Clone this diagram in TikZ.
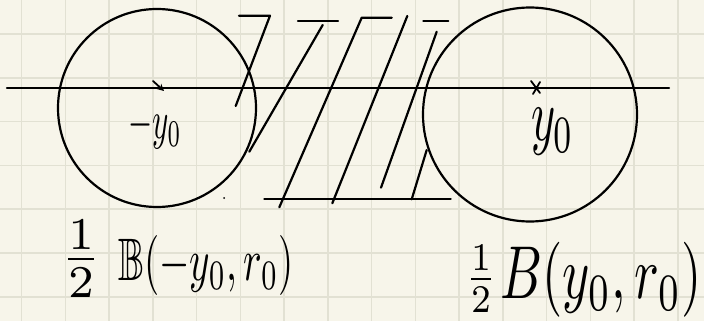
\documentclass[tikz,border=0pt]{standalone}
\usepackage{amssymb}
\usepackage{graphicx}
\usetikzlibrary{arrows.meta}
\definecolor{paper}{HTML}{F7F5EA}
\definecolor{gridc}{HTML}{E2E1D3}
\begin{document}
\begin{tikzpicture}[x=1pt,y=-1pt,
  ink/.style={line width=2.2pt,line cap=round,line join=round,black},
  gridline/.style={line width=1.6pt,gridc},
  tick/.style={line width=1.8pt,line cap=round,black},
  lbl/.style={inner sep=0pt}]
\useasboundingbox (0,0) rectangle (704,321);
\fill[paper] (0,0) rectangle (704,321);
\begin{scope}
\clip (0,0) rectangle (704,321);
\foreach \i in {0,...,15} \draw[gridline] ({21.6+43.75*\i},0) -- ({21.6+43.75*\i},321);
\foreach \j in {0,...,6} \draw[gridline] (0,{34+43.8*\j}) -- (704,{34+43.8*\j});
\end{scope}
% balls
\node[ink,draw,circle,minimum size=198pt,inner sep=0pt] (L) at (157,108) {};
\node[ink,draw,circle,minimum size=214pt,inner sep=0pt] (R) at (530,114.5) {};
% axis
\coordinate (a1) at (7,88);
\coordinate (a2) at (669,88);
\draw[ink] (a1) -- (a2);
% centre marks
\coordinate (m1) at (153,81);
\coordinate (m2) at (164,91);
\draw[tick,-{Stealth[length=7pt,width=7pt]}] (m1) -- (m2);
\coordinate (x1) at (531,81); \coordinate (x2) at (540,93);
\coordinate (x3) at (540,82); \coordinate (x4) at (533,94);
\draw[tick] (x1) -- (x2) (x3) -- (x4);
% hatching
\draw[ink] (239,15.7) -- (270,15.7) -- (235.7,106);
\draw[ink] (298,21) -- (338,21);
\draw[ink] (322.7,25) -- (249.3,151.7);
\draw[ink] (391.7,17.7) -- (361.7,17.7) -- (279.3,207.3);
\draw[ink] (407.3,16) -- (332.3,203.3);
\draw[ink] (423.3,20.7) -- (448.3,20.7);
\draw[ink] (436.7,31.7) -- (381,187.7);
\draw[ink] (264.3,199.3) -- (450.7,199.3);
\draw[ink] (426.7,150) -- (411.7,199.3);
\fill (224,198) circle (1pt);
% labels
\node[lbl] (lm) at (155,128) {\scalebox{3.1}[5.4]{$-y_0$}};
\node[lbl] (rm) at (553,132) {\scalebox{4.6}[7.5]{$y_0$}};
\node[lbl] (lf) at (81,259) {\scalebox{6.5}[6.5]{$\frac{1}{2}$}};
\node[lbl] (lb) at (206,265) {\scalebox{3.9}[6]{$\mathbb{B}(-y_0,r_0)$}};
\node[lbl] (rf) at (481,279) {\scalebox{5}[5.6]{$\frac{1}{2}$}};
\node[lbl] (rb) at (601,280) {\scalebox{5.2}[7.5]{$B(y_0,r_0)$}};
\end{tikzpicture}
\end{document}
